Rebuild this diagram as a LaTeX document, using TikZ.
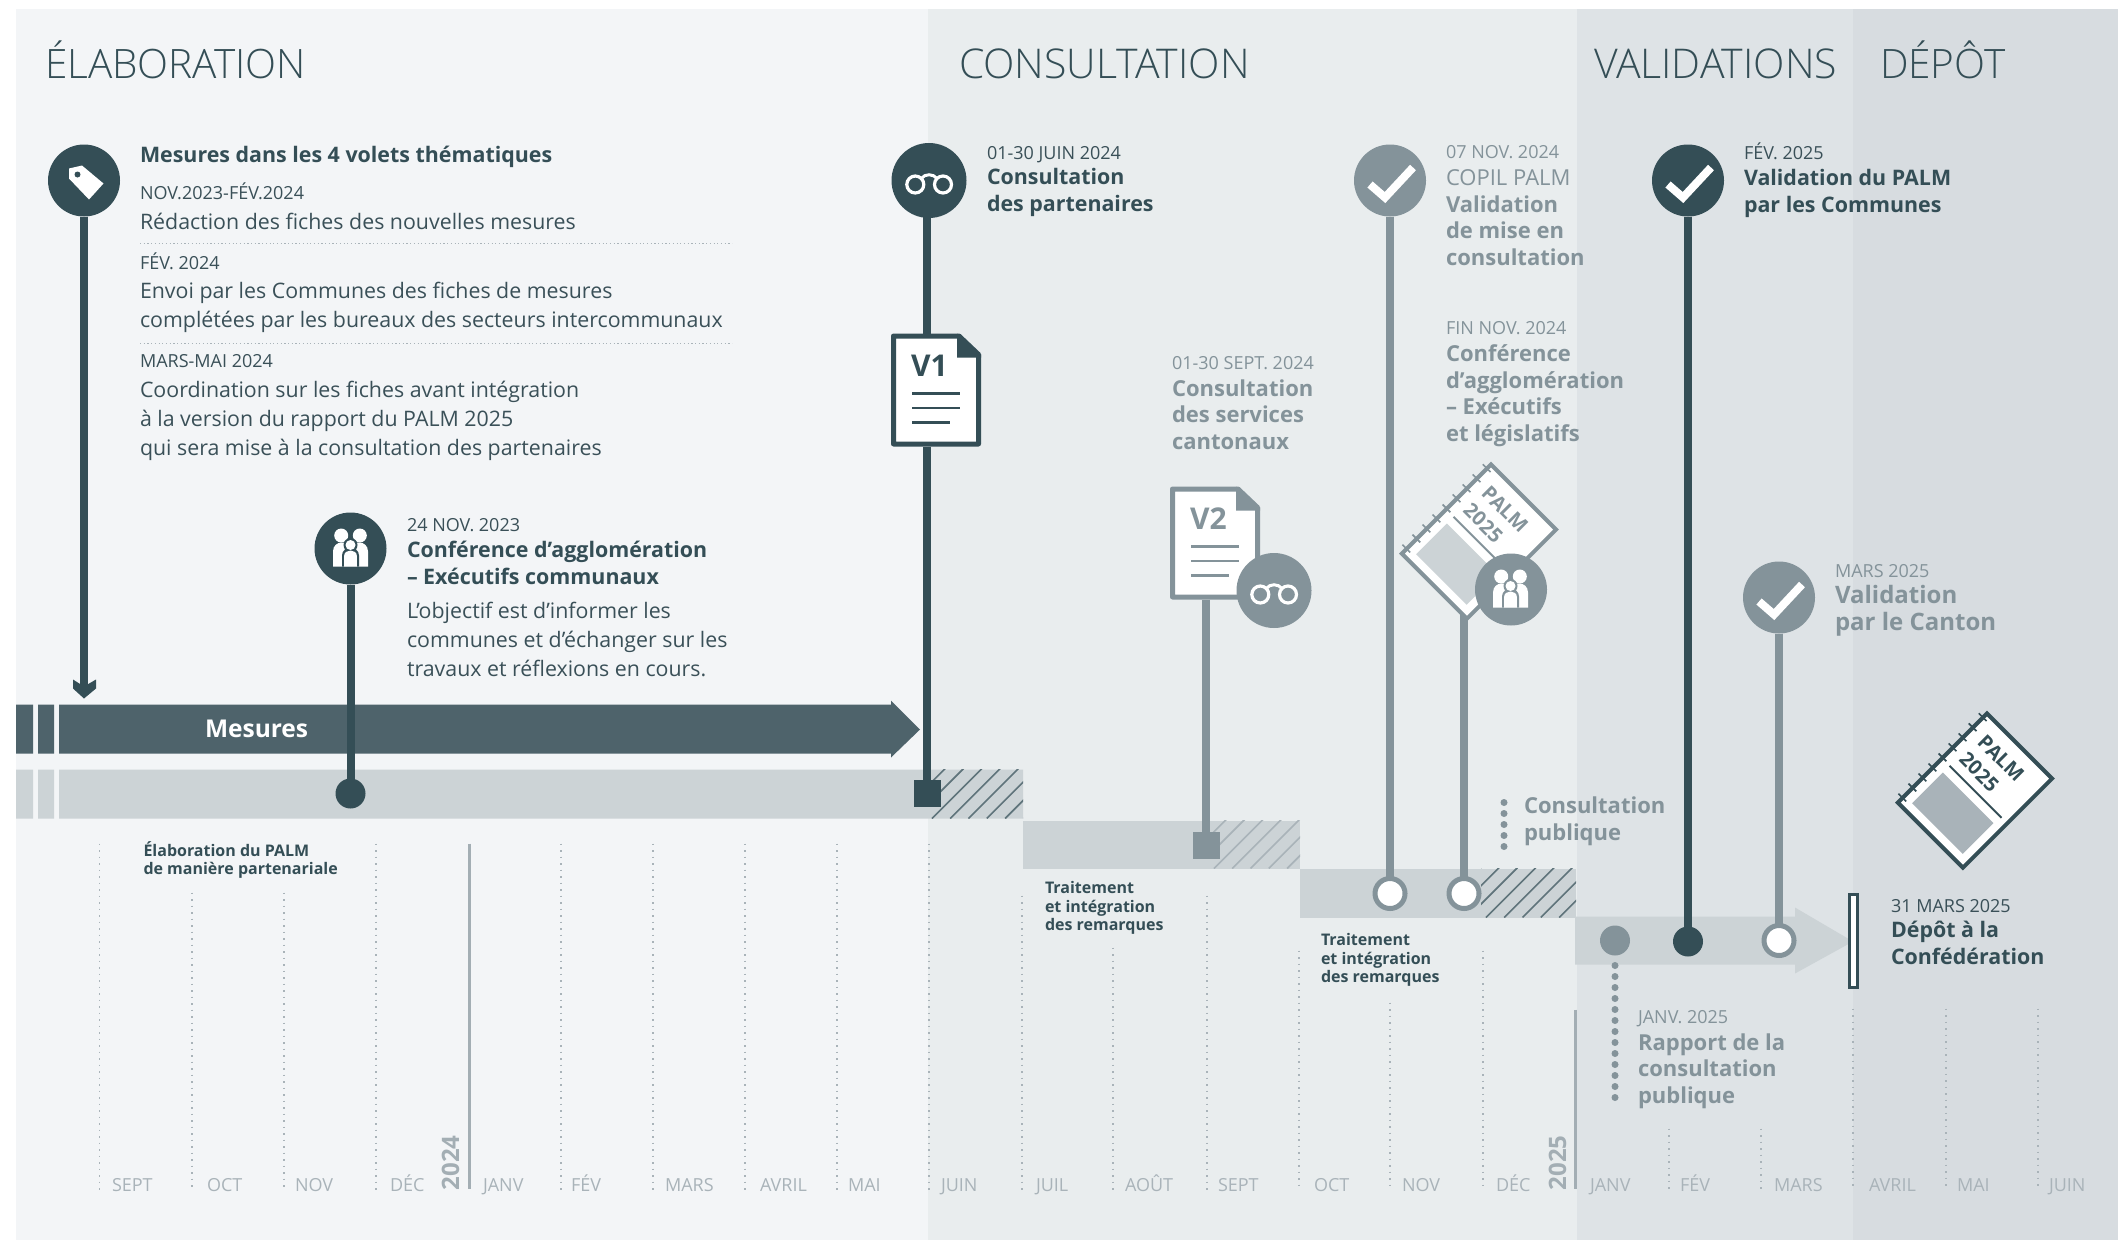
\documentclass[tikz,border=0pt]{standalone}
\usepackage{fontspec}
\setmainfont{Open Sans}
\newfontfamily\lightfont{Open Sans Light}
\definecolor{pa}{HTML}{F3F5F7}
\definecolor{pb}{HTML}{E9EDEE}
\definecolor{pc}{HTML}{DEE3E6}
\definecolor{pd}{HTML}{D7DCE0}
\definecolor{dk}{HTML}{344E56}
\definecolor{md}{HTML}{84939A}
\definecolor{bardk}{HTML}{4E636B}
\definecolor{barlt}{HTML}{CCD3D6}
\definecolor{mon}{HTML}{A9B3B9}
\definecolor{yr}{HTML}{A3AEB4}
\definecolor{txd}{HTML}{3A5058}
\definecolor{hatd}{HTML}{5F747B}
\tikzset{
 txt/.style={anchor=base west,inner sep=0pt,outer sep=0pt,align=left},
 head/.style={txt,text=dk,font=\lightfont\fontsize{41}{48}\selectfont},
 dat/.style={txt,font=\fontsize{18}{22}\selectfont},
 ttl/.style={txt,font=\bfseries\fontsize{21.4}{26.7}\selectfont},
 ttlg/.style={txt,text=md,font=\bfseries\fontsize{22}{26.7}\selectfont},
 ttlc/.style={txt,text=md,font=\bfseries\fontsize{24}{26.7}\selectfont},
 bod/.style={txt,text=txd,font=\fontsize{21.35}{29}\selectfont},
 sml/.style={txt,text=dk,font=\bfseries\fontsize{16}{18.5}\selectfont},
 monl/.style={txt,text=mon,font=\fontsize{18}{22}\selectfont},
 yrl/.style={anchor=base west,inner sep=0pt,rotate=90,text=yr,font=\bfseries\fontsize{24}{24}\selectfont},
 ico/.style={circle,minimum size=72pt,inner sep=0pt,outer sep=0pt,fill=#1},
 icob/.style={circle,minimum size=75pt,inner sep=0pt,outer sep=0pt,fill=#1},
 dotn/.style={circle,minimum size=30pt,inner sep=0pt,outer sep=0pt,fill=#1},
 ringn/.style={circle,minimum size=30pt,inner sep=0pt,outer sep=0pt,fill=white,draw=md,line width=5pt},
 sq/.style={rectangle,minimum size=27pt,inner sep=0pt,outer sep=0pt,fill=#1},
 stem/.style={line width=8pt,draw=#1},
 grid/.style={draw=mon,line width=1.5pt,dash pattern=on 1.5pt off 5pt},
 year/.style={draw=yr,line width=3pt},
 bigdots/.style={draw=md,line width=7pt,line cap=round,dash pattern=on 0pt off 11pt},
 seprule/.style={draw=mon,line width=1.2pt,dash pattern=on 1.2pt off 2.5pt},
}
\newcommand{\hatchbar}[5]{%
 \begin{scope}\clip (#1,#3) rectangle (#2,#4);
 \foreach \k in {0,...,9} \draw[#5,line width=1.6pt] ({#1-50+18.3*\k},#4) -- ++(50,-50);
 \end{scope}}
\newcommand{\iconcheck}[2]{\draw[white,line width=8pt,line join=miter,line cap=butt] (#1-20,#2+4) -- (#1-5,#2+17) -- (#1+23,#2-13);}
\newcommand{\iconglasses}[2]{%
 \begin{scope}[shift={(#1,#2)}]
 \draw[white,line width=3.2pt] (-13.7,4) circle[radius=8.5] (14,4) circle[radius=8.5];
 \draw[white,line width=3pt] (-7.7,-2) .. controls (-4,-7) and (4,-7) .. (8,-2);
 \end{scope}}
\newcommand{\iconpeople}[3]{%
 \begin{scope}[shift={(#1-0.5,#2)}]
 \fill[white] (-9.3,-13) circle[radius=7] (9.3,-13) circle[radius=7];
 \fill[white] (-17.5,18) -- (-17.5,3) .. controls (-17.5,-3) and (-13,-6) .. (-9,-6) -- (9,-6) .. controls (13,-6) and (17.5,-3) .. (17.5,3) -- (17.5,18) -- cycle;
 \fill[#3] (-8.5,18) -- (-8.5,7) .. controls (-8.5,2) and (-4,-1) .. (0,-1) .. controls (4,-1) and (8.5,2) .. (8.5,7) -- (8.5,18) -- cycle;
 \fill[#3] (0,-3.5) circle[radius=7];
 \fill[white] (0,-3.5) circle[radius=5];
 \fill[white] (-6.3,18) -- (-6.3,7) .. controls (-6.3,4) and (-3,2) .. (0,2) .. controls (3,2) and (6.3,4) .. (6.3,7) -- (6.3,18) -- cycle;
 \end{scope}}
\newcommand{\docicon}[5]{%
 \begin{scope}[shift={(#1,#2)}]
 \filldraw[fill=white,draw=#3,line width=5pt,line join=round] (2.5,2.5) -- (68,2.5) -- (87.5,21) -- (87.5,110.5) -- (2.5,110.5) -- cycle;
 \fill[#3] (66,0) -- (90,21) -- (90,24) -- (66,24) -- cycle;
 \draw[#3,line width=2.5pt] (21,60) -- (69,60) (21,74.5) -- (69,74.5) (21,89) -- (59,89);
 \node[txt,text=#3,font=\bfseries\fontsize{30}{30}\selectfont] (#4) at (20,43) {#5};
 \end{scope}}
\newcommand{\palmbook}[5]{%
 \begin{scope}[shift={(#1,#2)},x={(0.7071pt,-0.7071pt)},y={(-0.7071pt,-0.7071pt)}]
 \filldraw[fill=white,draw=#3,line width=4pt,line join=miter] (0,0) -- (92,0) -- (92,126) -- (0,126) -- cycle;
 \foreach \v in {5.7,19.9,34.1,48.3,62.5,76.7,90.9,105.1,119.3} \draw[#3,line width=1.6pt] (-6,\v) -- (5,\v);
 \draw[#3,line width=2pt] (10.5,63.5) -- (84,63.5);
 \fill[#4] (10.5,73) -- (82,73) -- (82,116.5) -- (10.5,116.5) -- cycle;
 \node[txt,rotate=-45,text=#3,font=\bfseries\fontsize{20}{20}\selectfont] (#5a) at (14,29) {PALM};
 \node[txt,rotate=-45,text=#3,font=\bfseries\fontsize{20}{20}\selectfont] (#5b) at (13,54) {2025};
 \end{scope}}
\begin{document}
\begin{tikzpicture}[x=1pt,y=-1pt]
\useasboundingbox (0,-0.5) rectangle (2118,1239.5);
% panels
\fill[pa] (16,8.5) rectangle (928,1239.5);
\fill[pb] (928,8.5) rectangle (1577,1239.5);
\fill[pc] (1577,8.5) rectangle (1853,1239.5);
\fill[pd] (1853,8.5) rectangle (2118,1239.5);
\node[head,font=\lightfont\fontsize{40.5}{48}\selectfont] (h1) at (45,78) {ÉLABORATION};
\node[head] (h2) at (959,78) {CONSULTATION};
\node[head] (h3) at (1594,78) {VALIDATIONS};
\node[head,font=\lightfont\fontsize{40.5}{48}\selectfont] (h4) at (1880,78) {DÉPÔT};
% month grid
\foreach \x/\y in {99.5/843,192/892,284/892,376/843,561/843,653/843,745/843,837/843,929/843,1022/895,1113/947,1207/895,1299/950,1390/1002,1483/950,1669/1128,1761/1128,1853/1008,1946/1008,2038/1008}
  \draw[grid] (\x,\y) -- (\x,1190);
\draw[year] (469,843) -- (469,1188);
\draw[year] (1575,1009) -- (1575,1188);
\node[yrl] (y24) at (459,1190) {2024};
\node[yrl] (y25) at (1566,1190) {2025};
\foreach \n/\x/\t in {m1/112/SEPT,m2/207/OCT,m3/295/NOV,m4/390/DÉC,m5/483/JANV,m6/571/FÉV,m7/665/MARS,m8/760/AVRIL,m9/848/MAI,m10/941/JUIN,m11/1036/JUIL,m12/1125/AOÛT,m13/1218/SEPT,m14/1314/OCT,m15/1402/NOV,m16/1496/DÉC,m17/1590/JANV,m18/1680/FÉV,m19/1774/MARS,m20/1869/AVRIL,m21/1957/MAI,m22/2049/JUIN}
  \node[monl] (\n) at (\x,1191) {\t};
% bars
\fill[bardk] (16,704) rectangle (33,753) (38,704) rectangle (54,753);
\fill[bardk] (59,704) -- (891,704) -- (891,700) -- (920,729) -- (891,757) -- (891,753) -- (59,753) -- cycle;
\node[txt,text=white,font=\bfseries\fontsize{24.5}{24.5}\selectfont] (mes) at (205,737) {Mesures};
\fill[barlt] (16,769) rectangle (33,818) (38,769) rectangle (54,818) (59,769) rectangle (1023,818);
\hatchbar{927}{1023}{769}{818}{hatd}
\fill[barlt] (1023,820) rectangle (1300,868);
\hatchbar{1209}{1300}{820}{868}{mon}
\fill[barlt] (1300,868) rectangle (1576,917);
\hatchbar{1481}{1576}{868}{917}{hatd}
\fill[barlt] (1575,916) -- (1795,916) -- (1795,907) -- (1853,941) -- (1795,973) -- (1795,964) -- (1575,964) -- cycle;
% bracket
\filldraw[fill=white,draw=dk,line width=3pt] (1849,894) rectangle (1857,987);
% rules
\draw[seprule] (140,243) -- (732,243);
\draw[seprule] (140,343) -- (732,343);
% end nodes
\node[ico=dk] (c1) at (84,180) {};
\node[ico=dk] (c2) at (350.5,548) {};
\node[icob=dk] (c3) at (929,180) {};
\node[ico=md] (c4) at (1390,180) {};
\node[ico=dk] (c5) at (1688,180) {};
\node[ico=md] (c6) at (1779,597) {};
\node[dotn=dk] (d2) at (350.5,793) {};
\node[sq=dk] (s3) at (927,792.5) {};
\node[sq=md] (s4) at (1206,844.5) {};
\node[ringn] (r1) at (1390,893) {};
\node[ringn] (r2) at (1464,893) {};
\node[dotn=md] (d3) at (1615,940) {};
\node[dotn=dk] (d4) at (1688,941) {};
\node[ringn] (r3) at (1779,940) {};
\coordinate (a1) at (84,686);
\coordinate (c3b) at (927,216);
\coordinate (v1t) at (927,333);
\coordinate (v1b) at (927,446);
\coordinate (v2b) at (1206,599);
\coordinate (b1b) at (1464,614);
\coordinate (cp1) at (1504,802);
\coordinate (cp2) at (1504,857);
\coordinate (rp1) at (1615,965);
\coordinate (rp2) at (1615,1105);
% stems
\draw[stem=dk] (c1) -- (a1);
\fill[dk] (73,679) -- (84,686) -- (96,679) -- (96,688) -- (84,698) -- (73,688) -- cycle;
\draw[stem=dk] (c2) -- (d2);
\draw[stem=dk] (c3b) -- (v1t);
\draw[stem=dk] (v1b) -- (s3);
\draw[stem=md] (v2b) -- (s4);
\draw[stem=md] (c4) -- (r1);
\draw[stem=md] (b1b) -- (r2);
\draw[stem=dk] (c5) -- (d4);
\draw[stem=md] (c6) -- (r3);
\draw[bigdots] (cp1) -- (cp2);
\draw[bigdots] (rp1) -- (rp2);
% documents
\docicon{891}{333}{dk}{v1}{V1}
\docicon{1170}{486}{md}{v2}{V2}
\palmbook{1491}{464}{md}{barlt}{bka}
\palmbook{1987}{713}{dk}{mon}{bkb}
\node[icob=md] (g2) at (1274,590) {};
\node[ico=md] (pp2) at (1511,589) {};
% icons
\fill[white] (69,168) -- (82,165) -- (103.5,183) -- (89,199) -- (69,178) -- cycle;
\fill[dk] (77.5,174) circle[radius=3];
\iconglasses{929}{180}
\iconglasses{1274}{590}
\iconpeople{351}{548}{dk}
\iconpeople{1511}{589}{md}
\iconcheck{1390}{180}
\iconcheck{1688}{180}
\iconcheck{1779}{597}
% texts
\node[ttl,text=dk] (t1) at (140,162) {Mesures dans les 4 volets thématiques};
\node[dat,text=txd] (t2) at (140,199) {NOV.2023-FÉV.2024};
\node[bod] (t3) at (140,229) {Rédaction des fiches des nouvelles mesures};
\node[dat,text=txd] (t4) at (140,269) {FÉV. 2024};
\node[bod] (t5) at (140,327) {Envoi par les Communes des fiches de mesures\\complétées par les bureaux des secteurs intercommunaux};
\node[dat,text=txd] (t6) at (140,367) {MARS-MAI 2024};
\node[bod] (t7) at (140,455) {Coordination sur les fiches avant intégration\\à la version du rapport du PALM 2025\\qui sera mise à la consultation des partenaires};
\node[dat,text=txd] (t8) at (407,531) {24 NOV. 2023};
\node[ttl,text=dk] (t9) at (407,584) {Conférence d’agglomération\\– Exécutifs communaux};
\node[bod] (t10) at (407,676) {L’objectif est d’informer les\\communes et d’échanger sur les\\travaux et réflexions en cours.};
\node[dat,text=txd] (t11) at (987,159) {01-30 JUIN 2024};
\node[ttl,text=dk] (t12) at (987,211) {Consultation\\des partenaires};
\node[dat,text=md] (t13) at (1172,369) {01-30 SEPT. 2024};
\node[ttlg] (t14) at (1172,449) {Consultation\\des services\\cantonaux};
\node[dat,text=md] (t15) at (1446,158) {07 NOV. 2024};
\node[txt,text=md,font=\fontsize{22}{26.7}\selectfont] (t16) at (1446,185) {COPIL PALM};
\node[ttlg] (t17) at (1446,265) {Validation\\de mise en\\consultation};
\node[dat,text=md] (t18) at (1446,334) {FIN NOV. 2024};
\node[ttlg] (t19) at (1446,441) {Conférence\\d’agglomération\\– Exécutifs\\et législatifs};
\node[dat,text=txd] (t20) at (1744,159) {FÉV. 2025};
\node[ttl,text=dk] (t21) at (1744,212) {Validation du PALM\\par les Communes};
\node[dat,text=md] (t22) at (1835,577) {MARS 2025};
\node[ttlc] (t23) at (1835,630) {Validation\\par le Canton};
\node[ttlg] (t24) at (1524,840) {Consultation\\publique};
\node[dat,text=md] (t25) at (1638,1023) {JANV. 2025};
\node[ttlg] (t26) at (1638,1103) {Rapport de la\\consultation\\publique};
\node[dat,text=txd] (t27) at (1891,912) {31 MARS 2025};
\node[ttl,text=dk] (t28) at (1891,964) {Dépôt à la\\Confédération};
\node[sml] (t29) at (143.5,874) {Élaboration du PALM\\de manière partenariale};
\node[sml] (t30) at (1045,930) {Traitement\\et intégration\\des remarques};
\node[sml] (t31) at (1321,982) {Traitement\\et intégration\\des remarques};
\end{tikzpicture}
\end{document}
